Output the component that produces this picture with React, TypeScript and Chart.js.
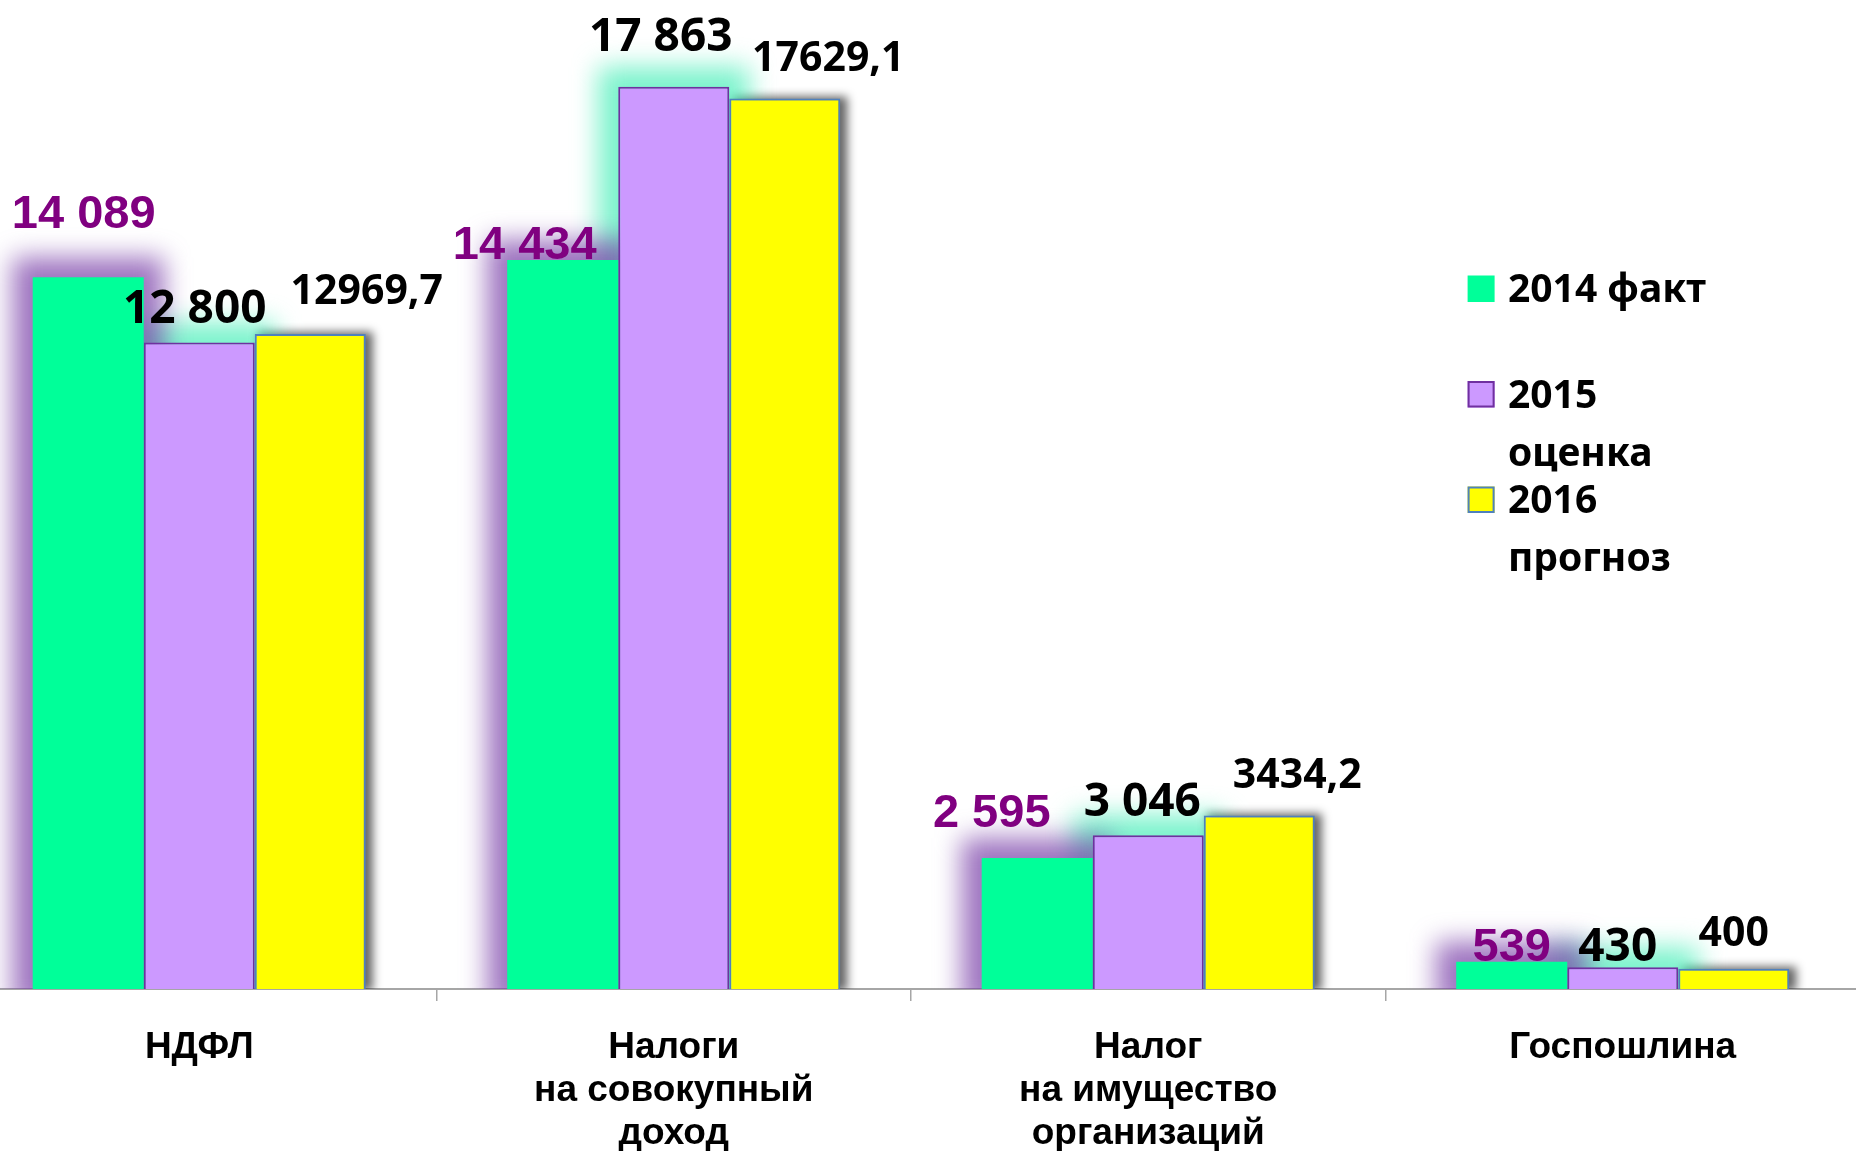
import React, { useEffect, useRef } from 'react';
import { Chart, registerables } from 'chart.js';

Chart.register(...registerables);

// ---------- data ----------
const categories: string[][] = [
  ['НДФЛ'],
  ['Налоги', 'на совокупный', 'доход'],
  ['Налог', 'на имущество', 'организаций'],
  ['Госпошлина'],
];
const seriesNames = ['2014 факт', '2015 оценка', '2016 прогноз'];
const fact2014 = [14089, 14434, 2595, 539];
const estimate2015 = [12800, 17863, 3046, 430];
const forecast2016 = [12969.7, 17629.1, 3434.2, 400];
const yMax = 19580;

// ---------- styling ----------
const SHIFT = 38; // canvas starts left of the page (plot is cut at the left edge)
const CANVAS_W = 1898;
const CANVAS_H = 1151;
const fills = ['#00FF99', '#CC99FF', '#FFFF00'];
const borders = ['#00FF99', '#7030A0', '#4F81BD'];
const borderWidths = [0, 2, 2];
const glows = [
  { color: 'rgba(120,62,168,0.72)', grow: 20, blur: 13, ox: 0, oy: 0 },
  { color: 'rgba(60,238,180,0.68)', grow: 20, blur: 13, ox: 0, oy: 0 },
  { color: 'rgba(0,0,0,0.6)', grow: 2, blur: 5, ox: 5, oy: 0 },
];
const labelFonts = ['bold 47px "Liberation Sans"', 'bold 46px "Noto Sans"', 'bold 41px "Noto Sans"'];
const labelColors = ['#800080', '#000000', '#000000'];
// manual label nudges (px) as in the original slide
const labelShiftX = [
  [-4.5, -38, -45.5, 0],
  [-4.5, -13, -6, -5],
  [56.5, 43.5, 38, 0],
];
const labelLift = [
  [49.7, 1, 31, 1],
  [19.7, 36, 19, 6],
  [29.7, 27.7, 27.7, 23],
];

const fmtSpaced = (v: number) => Math.round(v).toString().replace(/\B(?=(\d{3})+(?!\d))/g, ' ');
const fmtComma = (v: number) => String(v).replace('.', ',');
const formatters = [fmtSpaced, fmtSpaced, fmtComma];

const glowPlugin = {
  id: 'glowPlugin',
  beforeDatasetsDraw(chart: any) {
    const ctx = chart.ctx;
    const area = chart.chartArea;
    ctx.save();
    ctx.beginPath();
    ctx.rect(0, 0, chart.width, area.bottom);
    ctx.clip();
    for (let d = chart.data.datasets.length - 1; d >= 0; d--) {
      const meta = chart.getDatasetMeta(d);
      const g = glows[d];
      meta.data.forEach((el: any) => {
        const p = el.getProps(['x', 'y', 'base', 'width'], true);
        ctx.save();
        ctx.filter = `blur(${g.blur}px)`;
        ctx.fillStyle = g.color;
        ctx.fillRect(
          p.x - p.width / 2 - g.grow + g.ox,
          p.y - g.grow + g.oy,
          p.width + 2 * g.grow,
          p.base - p.y + 2 * g.grow
        );
        ctx.restore();
      });
    }
    ctx.restore();
  },
  afterDatasetsDraw(chart: any) {
    const ctx = chart.ctx;
    ctx.save();
    ctx.textAlign = 'center';
    ctx.textBaseline = 'alphabetic';
    chart.data.datasets.forEach((ds: any, d: number) => {
      const meta = chart.getDatasetMeta(d);
      ctx.font = labelFonts[d];
      ctx.fillStyle = labelColors[d];
      meta.data.forEach((el: any, i: number) => {
        const p = el.getProps(['x', 'y'], true);
        const txt = formatters[d](ds.data[i]);
        ctx.fillText(txt, p.x + labelShiftX[d][i], p.y - labelLift[d][i]);
      });
    });
    ctx.restore();
  },
  afterDraw(chart: any) {
    const ctx = chart.ctx;
    ctx.save();
    ctx.font = 'bold 39px "Noto Sans"';
    ctx.textBaseline = 'alphabetic';
    ctx.textAlign = 'left';
    const boxX = 1467.6 + SHIFT;
    const textX = 1508 + SHIFT;
    const maxW = 230;
    chart.data.datasets.forEach((ds: any, d: number) => {
      const base = 302 + d * 105.5;
      ctx.fillStyle = fills[d];
      ctx.fillRect(boxX, base - 26.5, 27, 26.5);
      if (borderWidths[d] > 0) {
        ctx.strokeStyle = borders[d];
        ctx.lineWidth = 2;
        ctx.strokeRect(boxX + 1, base - 25.5, 25, 24.5);
      }
      const words = String(ds.label).split(' ');
      const lines: string[] = [];
      let cur = '';
      words.forEach((w) => {
        const test = cur ? cur + ' ' + w : w;
        if (cur && ctx.measureText(test).width > maxW) {
          lines.push(cur);
          cur = w;
        } else cur = test;
      });
      if (cur) lines.push(cur);
      ctx.fillStyle = '#000000';
      lines.forEach((ln, k) => ctx.fillText(ln, textX, base + k * 58));
    });
    ctx.restore();
  },
};

export default function App() {
  const ref = useRef<HTMLCanvasElement | null>(null);

  useEffect(() => {
    document.body.style.margin = '0';
    document.body.style.background = '#ffffff';
    if (!ref.current) return;
    const values = [fact2014, estimate2015, forecast2016];
    const chart = new Chart(ref.current, {
      type: 'bar',
      data: {
        labels: categories,
        datasets: values.map((v, d) => ({
          label: seriesNames[d],
          data: v,
          backgroundColor: fills[d],
          borderColor: borders[d],
          borderWidth: borderWidths[d],
          barPercentage: 1,
          categoryPercentage: 0.702,
          clip: { left: 60, top: 60, right: 60, bottom: 0 } as any,
        })),
      },
      options: {
        animation: false,
        responsive: false,
        devicePixelRatio: 1,
        layout: { padding: 0 },
        events: [],
        plugins: {
          legend: { display: false },
          tooltip: { enabled: false },
          title: { display: false },
        },
        scales: {
          x: {
            type: 'category',
            offset: true,
            z: 1,
            grid: {
              offset: true,
              drawOnChartArea: false,
              drawTicks: true,
              tickLength: 12,
              color: '#A6A6A6',
              lineWidth: 1.5,
            },
            border: { display: true, color: '#A6A6A6', width: 2 },
            ticks: {
              color: '#000000',
              padding: 25,
              maxRotation: 0,
              autoSkip: false,
              font: { family: '"Liberation Sans"', weight: 'bold', size: 37, lineHeight: 1.17 },
            },
            afterFit(scale: any) {
              scale.height = 162;
            },
          },
          y: {
            display: false,
            min: 0,
            max: yMax,
          },
        },
      },
      plugins: [glowPlugin],
    });
    return () => chart.destroy();
  }, []);

  return (
    <div style={{ position: 'relative', width: 1856, height: 1151, overflow: 'hidden', background: '#fff' }}>
      <canvas
        ref={ref}
        width={CANVAS_W}
        height={CANVAS_H}
        style={{ position: 'absolute', left: -SHIFT, top: 0, width: CANVAS_W, height: CANVAS_H }}
      />
    </div>
  );
}
